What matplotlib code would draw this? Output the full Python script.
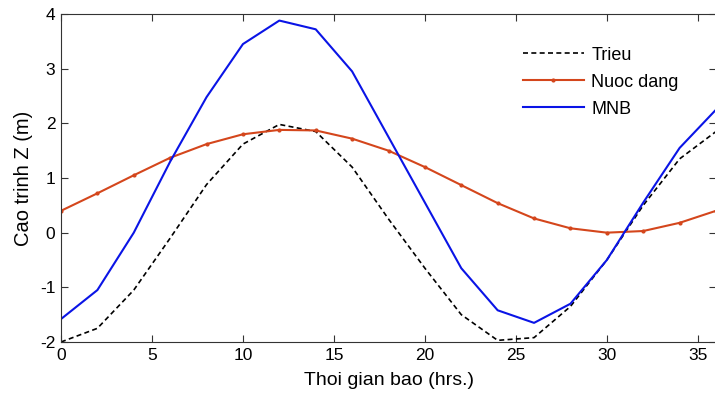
import numpy as np
import matplotlib.pyplot as plt

plt.rcParams['font.family'] = ['Liberation Sans', 'DejaVu Sans']
plt.rcParams['axes.unicode_minus'] = False

# - - - - data - - -
hours = [0, 2, 4, 6, 8, 10, 12, 14, 16, 18, 20, 22, 24, 26, 28, 30, 32, 34, 36]
trieu = [-2.0, -1.75, -1.05, -0.1, 0.88, 1.62, 1.98, 1.85, 1.2, 0.25, -0.65,
         -1.5, -1.97, -1.92, -1.35, -0.5, 0.5, 1.35, 1.85]
nuoc_dang = [0.4, 0.72, 1.05, 1.37, 1.62, 1.8, 1.88, 1.87, 1.72, 1.5, 1.2,
             0.87, 0.54, 0.26, 0.08, 0.0, 0.03, 0.18, 0.4]
mnb = [-1.58, -1.05, 0.0, 1.3, 2.48, 3.45, 3.88, 3.72, 2.95, 1.75, 0.55,
       -0.65, -1.42, -1.65, -1.3, -0.5, 0.55, 1.55, 2.25]
xticks = [0, 5, 10, 15, 20, 25, 30, 35]
yticks = [-2, -1, 0, 1, 2, 3, 4]


def main():
    fig = plt.figure(figsize=(7.15, 3.94), dpi=100)
    ax = fig.add_axes([61 / 715, 52 / 394, 655 / 715, 328 / 394])

    ax.plot(hours, trieu, color='black', linestyle='--', linewidth=1.2,
            dashes=(3, 2), label='Trieu')
    ax.plot(hours, nuoc_dang, color='#d4461c', linewidth=1.5, marker='.',
            markersize=4, label='Nuoc dang')
    ax.plot(hours, mnb, color='#0a14e6', linewidth=1.5, label='MNB')

    ax.set_xlim(0, 36)
    ax.set_ylim(-2, 4)
    ax.set_xticks(xticks)
    ax.set_yticks(yticks)
    ax.tick_params(direction='in', top=True, right=True, labelsize=12.5,
                   length=5, width=0.8, color='#333333', pad=4)
    for s in ax.spines.values():
        s.set_color('#333333')
        s.set_linewidth(0.8)

    ax.set_xlabel('Thoi gian bao (hrs.)', fontsize=14, labelpad=7)
    ax.set_ylabel('Cao trinh Z (m)', fontsize=14.5, labelpad=5)

    ax.legend(frameon=False, loc='upper left', bbox_to_anchor=(0.68, 0.95),
              fontsize=13, handlelength=3.4, labelspacing=0.55,
              handletextpad=0.4)

    fig.savefig('out.png', dpi=100)


if __name__ == '__main__':
    main()
